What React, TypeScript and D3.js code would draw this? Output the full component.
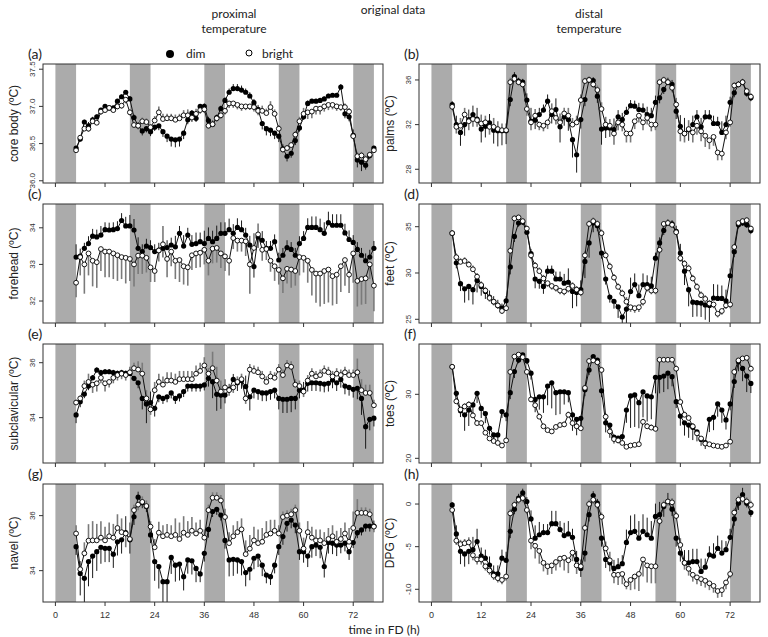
import React from 'react';
import * as d3 from 'd3';

// hourly means, 5..77 h in forced desynchrony
const hours = d3.range(5, 78);
const nightStart = [0, 18, 36, 54, 72];
const nightEnd = [5, 23, 41, 59, 77];
const xTicks = [0, 12, 24, 36, 48, 60, 72];

const coreDim = [36.44, 36.56, 36.79, 36.74, 36.82, 36.86, 36.95, 37.0, 36.98, 36.98, 37.07, 37.13, 37.19, 37.10,
  36.85, 36.74, 36.67, 36.70, 36.66, 36.72, 36.74, 36.66, 36.60, 36.56, 36.55, 36.56, 36.64, 36.82, 36.91, 36.84, 37.0, 37.0,
  36.81, 36.76, 36.85, 36.97, 37.08, 37.19, 37.24, 37.24, 37.22, 37.19, 37.14, 37.05, 36.96, 36.77, 36.70, 36.68, 36.64, 36.60,
  36.43, 36.33, 36.37, 36.54, 36.71, 36.86, 37.04, 37.07, 37.07, 37.08, 37.10, 37.14, 37.15, 37.15, 37.26, 36.90, 36.86, 36.61, 36.28, 36.25, 36.21, 36.34, 36.44];
const coreBright = [36.41, 36.58, 36.70, 36.70, 36.80, 36.78, 36.93, 36.95, 36.98, 36.95, 37.00, 37.01, 37.09, 36.92,
  36.75, 36.74, 36.80, 36.79, 36.72, 36.81, 36.92, 36.83, 36.84, 36.84, 36.82, 36.84, 36.88, 36.88, 36.85, 36.90, 36.95, 36.96,
  36.74, 36.76, 36.84, 36.88, 36.94, 37.04, 37.04, 37.02, 37.0, 37.0, 37.0, 36.99, 36.94, 36.94, 36.91, 36.99, 36.90, 36.70,
  36.42, 36.44, 36.48, 36.62, 36.80, 36.90, 36.92, 36.93, 36.97, 36.97, 37.0, 37.02, 37.02, 37.0, 36.99, 36.99, 36.93, 36.60, 36.33, 36.34, 36.29, 36.35, 36.41];
const coreDimSe = [0.02, 0.03, 0.03, 0.05, 0.04, 0.03, 0.03, 0.02, 0.02, 0.02, 0.03, 0.03, 0.03, 0.04,
  0.04, 0.05, 0.06, 0.05, 0.06, 0.05, 0.06, 0.07, 0.08, 0.1, 0.1, 0.1, 0.08, 0.06, 0.04, 0.05, 0.03, 0.04,
  0.05, 0.05, 0.04, 0.04, 0.04, 0.05, 0.06, 0.06, 0.06, 0.05, 0.05, 0.05, 0.06, 0.08, 0.09, 0.08, 0.08, 0.08,
  0.06, 0.07, 0.06, 0.06, 0.05, 0.04, 0.04, 0.03, 0.03, 0.03, 0.03, 0.03, 0.03, 0.03, 0.04, 0.06, 0.06, 0.08, 0.1, 0.12, 0.06, 0.05, 0.03];
const coreBrightSe = [0.02, 0.03, 0.03, 0.04, 0.03, 0.03, 0.04, 0.03, 0.03, 0.03, 0.04, 0.04, 0.05, 0.04,
  0.04, 0.05, 0.05, 0.05, 0.04, 0.06, 0.08, 0.07, 0.06, 0.06, 0.07, 0.06, 0.07, 0.08, 0.06, 0.07, 0.05, 0.05,
  0.04, 0.04, 0.05, 0.05, 0.05, 0.06, 0.06, 0.06, 0.06, 0.05, 0.05, 0.06, 0.06, 0.07, 0.06, 0.08, 0.06, 0.05,
  0.04, 0.04, 0.04, 0.05, 0.06, 0.08, 0.09, 0.09, 0.08, 0.08, 0.07, 0.07, 0.06, 0.06, 0.05, 0.05, 0.05, 0.04, 0.06, 0.05, 0.05, 0.04, 0.03];

const palmsDim = [33.8, 32.0, 31.3, 32.0, 32.45, 32.9, 32.5, 31.6, 31.85, 32.15, 31.5, 31.45, 31.45, 31.45,
  34.25, 36.3, 35.9, 35.8, 34.2, 32.3, 32.4, 32.9, 33.3, 34.1, 32.9, 33.35, 31.8, 32.7, 32.45, 30.65, 29.3, 32.45,
  34.25, 36.0, 35.95, 34.55, 31.6, 31.7, 31.7, 31.55, 32.7, 32.45, 33.1, 33.7, 33.65, 33.35, 33.3, 32.9, 32.8, 34.0,
  34.4, 35.15, 35.8, 35.6, 33.2, 31.85, 31.2, 31.55, 32.0, 32.7, 31.8, 32.7, 32.7, 32.1, 32.1, 31.3, 32.0, 34.0, 34.85, 35.6, 35.8, 34.8, 34.4];
const palmsBright = [33.6, 31.8, 31.9, 32.9, 32.3, 32.5, 32.4, 32.1, 32.2, 31.8, 31.8, 31.6, 31.5, 31.5,
  35.8, 36.1, 35.8, 35.6, 33.4, 32.2, 32.8, 32.0, 31.9, 32.2, 33.2, 32.6, 32.2, 33.0, 32.8, 32.0, 32.2, 34.2,
  35.9, 36.0, 35.6, 35.1, 33.4, 32.0, 31.9, 31.2, 32.2, 32.0, 31.2, 31.2, 32.3, 32.8, 32.2, 32.6, 32.0, 32.0,
  35.8, 36.0, 35.8, 35.3, 33.8, 31.4, 31.2, 31.6, 31.3, 31.9, 31.4, 31.0, 30.6, 30.9, 29.5, 29.4, 31.3, 32.2, 35.5, 35.6, 35.8, 35.0, 34.5];
const palmsDimSe = [0.3, 0.8, 1.2, 1.0, 0.9, 0.8, 1.0, 1.2, 1.0, 0.8, 1.2, 1.4, 1.3, 1.2,
  0.6, 0.4, 0.3, 0.3, 0.6, 1.2, 0.8, 0.6, 0.5, 0.6, 0.8, 1.0, 1.4, 0.8, 1.0, 1.6, 1.6, 0.8,
  0.6, 0.3, 0.3, 0.6, 1.4, 0.9, 0.8, 1.0, 0.6, 0.6, 0.5, 0.5, 0.5, 0.6, 0.6, 0.7, 0.7, 0.6,
  0.5, 0.4, 0.4, 0.4, 0.7, 1.0, 1.4, 1.0, 0.8, 0.6, 0.8, 0.6, 0.6, 0.7, 0.6, 1.0, 0.8, 0.5, 0.4, 0.3, 0.3, 0.3, 0.3];
const palmsBrightSe = [0.3, 0.6, 0.7, 0.6, 0.8, 0.7, 0.6, 0.8, 0.6, 0.7, 0.8, 0.7, 0.6, 0.6,
  0.4, 0.3, 0.3, 0.3, 0.6, 0.7, 0.6, 0.5, 0.5, 0.6, 0.7, 0.6, 0.8, 0.5, 0.7, 0.6, 0.6, 0.5,
  0.3, 0.2, 0.3, 0.4, 0.6, 0.7, 0.6, 1.0, 0.7, 0.6, 0.8, 0.8, 0.7, 0.6, 0.7, 0.6, 0.6, 0.5,
  0.3, 0.3, 0.3, 0.4, 0.6, 0.9, 0.8, 0.8, 0.9, 0.8, 0.9, 1.0, 0.8, 0.8, 0.7, 0.6, 0.6, 0.4, 0.3, 0.3, 0.3, 0.3, 0.3];

const foreheadDim = [33.2, 33.23, 33.44, 33.57, 33.77, 33.75, 33.8, 33.95, 33.94, 33.95, 33.98, 34.2, 34.05, 34.05,
  33.94, 33.44, 33.35, 33.5, 33.46, 33.35, 33.39, 33.44, 33.46, 33.53, 33.48, 33.85, 33.5, 33.8, 33.55, 33.57, 33.62, 33.57,
  33.71, 33.62, 33.71, 33.85, 33.85, 33.95, 33.85, 34.01, 33.95, 33.8, 33.53, 32.94, 33.75, 33.66, 33.44, 33.44, 33.62, 33.12,
  33.25, 33.46, 33.41, 33.25, 33.57, 33.71, 34.01, 34.01, 34.01, 33.95, 33.85, 34.14, 34.07, 34.07, 34.07, 33.86, 33.68, 33.6, 33.41, 33.25, 33.1, 33.2, 33.44];
const foreheadBright = [32.5, 33.2, 33.0, 33.3, 33.1, 33.06, 33.42, 33.35, 33.35, 33.3, 33.25, 33.2, 33.18, 33.15,
  33.0, 33.24, 33.24, 33.18, 32.92, 32.82, 33.38, 33.55, 33.15, 33.35, 33.1, 33.12, 32.95, 32.92, 33.25, 33.3, 33.32, 33.4,
  33.1, 33.43, 33.45, 33.3, 33.22, 33.1, 33.72, 33.65, 33.65, 33.63, 33.0, 33.45, 33.82, 33.4, 33.42, 33.1, 32.95, 32.85,
  32.62, 32.88, 32.86, 32.82, 33.2, 33.18, 33.1, 32.85, 32.75, 32.75, 32.82, 32.86, 32.68, 32.72, 32.95, 33.12, 32.72, 33.3, 32.55, 32.6, 32.62, 33.0, 32.42];
const foreheadDimSe = [0.35, 0.2, 0.15, 0.2, 0.2, 0.2, 0.25, 0.2, 0.2, 0.2, 0.2, 0.2, 0.25, 0.3,
  0.3, 0.3, 0.2, 0.2, 0.2, 0.2, 0.2, 0.25, 0.2, 0.2, 0.3, 0.2, 0.3, 0.2, 0.25, 0.3, 0.25, 0.35,
  0.3, 0.3, 0.35, 0.3, 0.3, 0.3, 0.25, 0.25, 0.25, 0.2, 0.25, 0.3, 0.3, 0.25, 0.2, 0.2, 0.2, 0.2,
  0.2, 0.2, 0.2, 0.2, 0.2, 0.2, 0.25, 0.3, 0.3, 0.3, 0.3, 0.3, 0.3, 0.3, 0.3, 0.25, 0.25, 0.2, 0.2, 0.2, 0.2, 0.2, 0.2];
const foreheadBrightSe = [0.4, 0.5, 0.8, 0.6, 0.7, 0.7, 0.6, 0.7, 0.7, 0.7, 0.7, 0.6, 0.7, 0.6,
  0.6, 0.5, 0.5, 0.4, 0.4, 0.3, 0.3, 0.5, 0.5, 0.4, 0.5, 0.6, 0.5, 0.5, 0.4, 0.4, 0.4, 0.4,
  0.4, 0.4, 0.4, 0.4, 0.4, 0.4, 0.3, 0.3, 0.3, 0.4, 0.8, 0.4, 0.3, 0.3, 0.3, 0.3, 0.4, 0.4,
  0.4, 0.4, 0.5, 0.4, 0.5, 0.4, 0.6, 0.7, 0.8, 0.9, 0.9, 0.9, 0.8, 0.8, 0.7, 0.7, 0.5, 0.8, 0.7, 0.7, 0.7, 0.4, 0.7];

const feetDim = [34.3, 31.1, 28.85, 28.3, 28.55, 28.2, 29.2, 28.55, 28.0, 27.4, 26.9, 26.5, 26.2, 27.0,
  30.65, 33.95, 35.4, 35.5, 34.4, 32.1, 29.35, 29.1, 28.55, 30.2, 30.2, 29.35, 29.35, 28.9, 29.0, 28.0, 27.9, 28.2,
  31.25, 33.25, 35.4, 35.1, 32.15, 29.35, 27.4, 26.95, 26.35, 25.25, 26.1, 28.0, 28.75, 27.55, 28.75, 28.75, 28.6, 31.6,
  33.25, 34.6, 35.4, 35.3, 34.5, 32.15, 30.2, 28.2, 26.85, 26.8, 26.75, 26.55, 26.5, 27.3, 27.25, 27.25, 27.0, 29.7, 32.3, 35.2, 35.4, 35.2, 34.6];
const feetBright = [34.3, 31.7, 31.2, 31.3, 30.9, 30.4, 29.6, 28.7, 28.1, 27.3, 26.9, 26.5, 25.9, 26.2,
  32.4, 35.9, 36.0, 35.6, 34.8, 31.9, 30.8, 30.2, 29.4, 28.9, 28.6, 28.4, 28.1, 28.0, 28.3, 28.6, 28.2, 27.9,
  31.9, 35.3, 35.6, 35.3, 34.3, 31.9, 30.7, 29.5, 28.5, 27.8, 26.9, 26.3, 26.2, 26.3, 26.9, 28.4, 28.1, 28.1,
  32.5, 35.3, 35.4, 35.2, 34.4, 31.6, 31.0, 30.5, 29.4, 28.5, 27.6, 27.2, 26.7, 26.6, 25.6, 25.9, 26.5, 26.6, 32.8, 35.4, 35.6, 35.7, 34.8];
const feetDimSe = [0.3, 0.6, 0.8, 1.5, 1.5, 1.6, 1.3, 1.0, 0.8, 0.7, 0.6, 0.6, 0.5, 0.5,
  0.8, 0.6, 0.4, 0.3, 0.3, 0.5, 1.0, 0.8, 0.8, 0.6, 0.6, 0.8, 0.8, 1.0, 1.5, 1.8, 1.5, 1.0,
  1.8, 1.6, 1.0, 0.6, 0.6, 0.6, 0.6, 0.8, 1.2, 1.2, 1.5, 1.5, 1.2, 1.2, 1.2, 1.0, 1.0, 0.6,
  0.6, 0.5, 0.4, 0.4, 0.6, 1.0, 1.5, 1.8, 1.6, 1.5, 1.5, 1.6, 1.8, 1.5, 1.5, 1.4, 1.2, 0.8, 0.6, 0.4, 0.3, 0.3, 0.4];
const feetBrightSe = [0.3, 0.4, 0.4, 0.4, 0.4, 0.4, 0.4, 0.4, 0.4, 0.4, 0.4, 0.4, 0.3, 0.3,
  0.4, 0.3, 0.3, 0.3, 0.3, 0.4, 0.4, 0.4, 0.4, 0.4, 0.4, 0.4, 0.4, 0.4, 0.4, 0.4, 0.4, 0.4,
  0.5, 0.4, 0.4, 0.4, 0.4, 0.4, 0.4, 0.4, 0.4, 0.4, 0.5, 0.5, 0.5, 0.5, 0.4, 0.4, 0.4, 0.4,
  0.4, 0.3, 0.3, 0.3, 0.3, 0.4, 0.4, 0.4, 0.4, 0.4, 0.4, 0.4, 0.4, 0.4, 0.4, 0.4, 0.4, 0.4, 0.3, 0.3, 0.3, 0.3, 0.3];

const subDim = [34.1, 34.58, 34.86, 35.15, 35.45, 35.73, 35.64, 35.67, 35.67, 35.64, 35.61, 35.64, 35.61, 35.61,
  35.43, 35.27, 34.7, 34.5, 34.55, 34.34, 34.76, 34.7, 34.76, 34.9, 34.7, 34.79, 34.95, 35.15, 35.15, 35.15, 35.15, 35.19,
  35.43, 35.31, 34.85, 34.82, 34.82, 35.03, 35.39, 35.27, 35.35, 35.13, 34.76, 35.0, 34.95, 34.9, 34.9, 34.95, 35.0, 34.7,
  34.67, 34.67, 34.7, 34.7, 35.0, 35.0, 35.25, 35.27, 35.27, 35.25, 35.22, 35.25, 35.37, 35.27, 35.39, 35.15, 35.1, 35.03, 35.07, 34.7, 33.67, 33.94, 33.98];
const subBright = [34.55, 34.7, 35.15, 35.3, 35.2, 35.25, 35.45, 35.25, 35.3, 35.45, 35.55, 35.6, 35.55, 35.65,
  35.8, 35.75, 35.6, 34.7, 34.3, 35.0, 35.3, 35.2, 35.35, 35.35, 35.3, 35.4, 35.4, 35.4, 35.4, 35.6, 35.7, 35.9,
  35.6, 35.8, 35.35, 34.95, 35.1, 35.0, 35.1, 35.3, 35.4, 34.7, 35.75, 35.7, 35.65, 35.5, 35.3, 35.5, 35.45, 35.75,
  35.55, 35.9, 35.85, 35.2, 35.15, 34.95, 35.35, 35.6, 35.5, 35.55, 35.7, 35.65, 35.5, 35.6, 35.55, 35.65, 35.55, 35.55, 35.65, 35.0, 34.9, 34.9, 34.45];
const subDimSe = [0.3, 0.2, 0.15, 0.15, 0.1, 0.1, 0.1, 0.1, 0.1, 0.1, 0.1, 0.1, 0.1, 0.1,
  0.1, 0.2, 0.4, 0.7, 0.4, 0.3, 0.2, 0.2, 0.2, 0.2, 0.2, 0.2, 0.2, 0.2, 0.2, 0.2, 0.2, 0.2,
  0.3, 0.6, 0.6, 0.5, 0.3, 0.2, 0.2, 0.3, 0.3, 0.4, 0.5, 0.3, 0.3, 0.3, 0.3, 0.3, 0.3, 0.4,
  0.5, 0.5, 0.5, 0.4, 0.3, 0.3, 0.3, 0.3, 0.3, 0.3, 0.3, 0.3, 0.3, 0.3, 0.3, 0.3, 0.3, 0.3, 0.4, 0.6, 0.8, 0.4, 0.3];
const subBrightSe = [0.1, 0.1, 0.2, 0.3, 0.3, 0.3, 0.2, 0.3, 0.2, 0.2, 0.2, 0.2, 0.2, 0.2,
  0.2, 0.3, 0.4, 0.3, 0.2, 0.3, 0.3, 0.3, 0.3, 0.3, 0.3, 0.3, 0.3, 0.3, 0.3, 0.3, 0.3, 0.3,
  0.2, 0.6, 0.5, 0.4, 0.3, 0.2, 0.2, 0.2, 0.2, 0.2, 0.2, 0.2, 0.2, 0.2, 0.2, 0.2, 0.2, 0.2,
  0.2, 0.2, 0.2, 0.2, 0.2, 0.2, 0.2, 0.2, 0.2, 0.2, 0.2, 0.2, 0.2, 0.2, 0.2, 0.2, 0.2, 0.2, 0.5, 0.4, 0.3, 0.3, 0.2];

const toesDim = [34.3, 30.15, 27.45, 26.8, 27.55, 28.35, 30.15, 27.8, 27.0, 24.7, 23.65, 23.65, 27.3, 26.8,
  30.25, 33.55, 35.35, 36.15, 35.25, 33.3, 29.2, 29.6, 29.6, 31.3, 31.8, 30.25, 30.4, 30.4, 30.25, 26.8, 26.1, 26.25,
  30.7, 33.8, 35.9, 35.35, 30.55, 25.55, 25.2, 23.3, 23.15, 23.4, 27.55, 29.75, 29.9, 28.7, 30.4, 29.75, 29.6, 32.65,
  32.65, 32.85, 33.3, 32.75, 28.85, 26.6, 25.55, 25.2, 24.85, 24.15, 22.95, 22.45, 26.1, 26.4, 28.5, 27.55, 26.0, 28.5, 32.0, 35.1, 34.05, 32.85, 31.7];
const toesBright = [34.3, 28.9, 27.6, 28.1, 28.4, 26.7, 25.5, 25.5, 24.0, 23.1, 22.7, 22.4, 22.0, 22.8,
  33.5, 35.9, 36.2, 35.8, 33.5, 29.2, 28.3, 26.5, 25.0, 24.4, 24.2, 24.9, 25.2, 25.3, 26.8, 25.5, 25.0, 24.7,
  31.0, 35.2, 35.3, 35.0, 33.8, 26.5, 24.2, 23.0, 22.8, 22.4, 21.8, 22.0, 22.1, 22.2, 25.7, 25.0, 24.8, 24.6,
  35.4, 35.4, 35.4, 35.4, 34.0, 28.8, 26.8, 26.3, 25.0, 23.9, 23.1, 22.3, 22.2, 22.0, 21.9, 21.8, 22.0, 22.6, 33.5, 35.3, 35.6, 35.7, 34.0];
const toesDimSe = [0.3, 0.5, 1.0, 2.5, 2.5, 2.0, 1.5, 1.5, 1.5, 1.0, 1.0, 1.0, 1.0, 1.0,
  1.0, 1.0, 0.5, 0.5, 0.5, 1.0, 2.0, 2.0, 2.5, 3.0, 4.0, 3.5, 3.5, 2.0, 1.5, 2.5, 2.5, 1.5,
  1.0, 0.8, 0.5, 0.5, 1.0, 1.5, 2.0, 1.0, 0.8, 1.0, 2.0, 5.0, 5.0, 4.0, 4.0, 4.0, 3.5, 2.5,
  2.5, 2.5, 2.5, 1.5, 1.0, 1.5, 2.0, 2.0, 2.0, 1.5, 1.0, 1.0, 2.0, 2.0, 2.0, 2.0, 1.5, 1.0, 1.0, 1.5, 2.0, 2.5, 1.5];
const toesBrightSe = [0.3, 0.5, 0.5, 0.5, 0.5, 0.5, 0.5, 0.4, 0.4, 0.4, 0.4, 0.3, 0.3, 0.3,
  0.4, 0.3, 0.3, 0.3, 0.4, 0.5, 0.5, 0.5, 0.4, 0.4, 0.4, 0.4, 0.4, 0.4, 0.5, 0.5, 0.5, 0.5,
  0.5, 0.4, 0.4, 0.4, 0.5, 0.5, 0.5, 0.4, 0.4, 0.3, 0.3, 0.3, 0.3, 0.3, 0.5, 0.5, 0.5, 0.5,
  0.4, 0.4, 0.4, 0.4, 0.5, 0.5, 0.5, 0.5, 0.5, 0.4, 0.4, 0.4, 0.3, 0.3, 0.3, 0.3, 0.3, 0.4, 0.5, 0.4, 0.4, 0.4, 0.5];

const navelDim = [34.87, 33.9, 33.72, 34.33, 34.53, 34.69, 34.85, 34.81, 34.81, 34.6, 35.05, 35.12, 35.38, 35.12,
  35.96, 36.67, 36.47, 36.33, 35.3, 34.33, 34.15, 33.6, 33.6, 34.48, 34.2, 34.24, 33.78, 34.39, 34.36, 34.08, 33.88, 34.63,
  35.5, 36.15, 36.23, 36.02, 35.1, 34.39, 34.41, 34.39, 34.33, 33.93, 34.05, 34.45, 34.53, 34.2, 33.84, 33.78, 34.2, 34.87,
  35.24, 35.72, 35.84, 35.66, 34.69, 34.69, 34.53, 34.87, 34.93, 34.85, 34.15, 35.02, 35.0, 34.93, 34.93, 35.0, 34.69, 35.02, 35.38, 35.48, 35.62, 35.62, 35.62];
const navelBright = [35.35, 34.05, 34.63, 35.09, 35.1, 35.1, 35.2, 35.1, 35.25, 35.2, 35.55, 35.4, 35.35, 35.15,
  36.2, 36.4, 36.5, 36.35, 35.6, 34.85, 35.38, 35.25, 35.3, 35.25, 35.3, 35.15, 35.38, 35.3, 35.45, 35.35, 35.45, 35.2,
  36.2, 36.65, 36.65, 36.55, 35.95, 35.0, 35.25, 35.4, 35.5, 34.6, 34.8, 35.1, 35.0, 35.05, 35.3, 35.35, 35.45, 35.35,
  35.95, 36.0, 36.05, 36.2, 35.45, 34.8, 35.4, 35.2, 35.1, 35.1, 35.0, 35.15, 35.25, 35.05, 35.15, 35.35, 35.05, 35.55, 36.1, 36.1, 36.1, 36.05, 35.6];
const navelDimSe = [0.3, 0.8, 0.9, 0.9, 0.8, 0.7, 0.6, 0.5, 0.5, 0.5, 0.5, 0.5, 0.6, 0.5,
  0.3, 0.2, 0.2, 0.2, 0.3, 0.7, 0.8, 0.8, 0.9, 0.6, 0.6, 0.6, 0.5, 0.5, 0.5, 0.5, 0.3, 0.3,
  0.3, 0.2, 0.2, 0.2, 0.3, 0.6, 0.6, 0.5, 0.5, 0.5, 0.4, 0.4, 0.4, 0.4, 0.3, 0.3, 0.3, 0.3,
  0.3, 0.3, 0.3, 0.3, 0.3, 0.4, 0.4, 0.4, 0.4, 0.4, 0.4, 0.4, 0.4, 0.4, 0.3, 0.3, 0.3, 0.2, 0.2, 0.2, 0.2, 0.2, 0.2];
const navelBrightSe = [0.3, 0.3, 0.4, 0.6, 0.7, 0.6, 0.6, 0.5, 0.5, 0.5, 0.5, 0.5, 0.5, 0.6,
  0.2, 0.2, 0.2, 0.2, 0.2, 0.3, 0.4, 0.4, 0.4, 0.4, 0.6, 0.6, 0.6, 0.5, 0.5, 0.4, 0.4, 0.3,
  0.2, 0.2, 0.2, 0.2, 0.3, 0.4, 0.4, 0.4, 0.4, 0.5, 0.5, 0.5, 0.5, 0.5, 0.5, 0.5, 0.4, 0.3,
  0.2, 0.2, 0.2, 0.2, 0.3, 0.4, 0.4, 0.4, 0.4, 0.4, 0.4, 0.4, 0.4, 0.4, 0.4, 0.4, 0.5, 0.6, 0.5, 0.2, 0.2, 0.2, 0.2];

const dpgDim = [-0.1, -3.5, -5.55, -5.85, -5.55, -5.35, -4.4, -6.1, -6.35, -7.15, -8.2, -8.2, -6.35, -6.6,
  -3.2, -0.6, 0.7, 1.3, 0.3, -1.75, -4.0, -3.6, -3.35, -3.35, -2.3, -2.3, -3.0, -3.7, -3.5, -3.9, -6.5, -7.55,
  -5.75, -1.25, 1.0, 0.1, -4.0, -6.5, -6.9, -7.55, -7.35, -7.0, -4.5, -3.35, -3.2, -4.0, -3.2, -3.6, -4.0, -1.45,
  -1.25, -0.3, 0.3, -0.6, -4.0, -5.75, -6.9, -6.9, -6.75, -6.75, -7.9, -7.4, -5.95, -6.1, -5.2, -5.75, -5.35, -3.9, -1.75, 0.1, 1.1, 0.1, -1.0];
const dpgBright = [-0.7, -4.3, -4.7, -4.6, -4.5, -6.0, -6.5, -6.5, -7.3, -7.8, -8.4, -8.7, -8.9, -8.5,
  -1.1, -0.1, 0.5, 0.7, -0.7, -4.3, -4.9, -5.5, -6.9, -7.3, -7.2, -6.8, -6.4, -6.3, -6.6, -5.7, -7.2, -7.3,
  -2.8, 0.0, 0.5, -0.1, -1.5, -5.2, -6.6, -8.3, -8.3, -8.2, -9.4, -8.9, -8.5, -8.2, -6.5, -7.2, -7.3, -7.3,
  -2.0, -0.1, 0.3, 0.2, -1.4, -4.8, -6.9, -7.6, -8.3, -8.6, -8.8, -9.0, -9.3, -9.6, -10.2, -10.1, -9.2, -8.2, -1.0, 0.5, 0.6, 0.3, -0.1];
const dpgDimSe = [0.3, 1.0, 1.5, 1.5, 1.5, 1.5, 1.5, 1.0, 1.0, 1.0, 1.0, 1.0, 1.0, 1.0,
  0.8, 0.6, 0.5, 0.5, 0.5, 1.0, 1.5, 1.5, 1.0, 1.0, 1.5, 1.5, 1.0, 1.5, 1.5, 1.0, 1.0, 1.0,
  1.0, 0.8, 0.5, 0.5, 1.0, 1.0, 1.0, 1.0, 1.0, 1.0, 1.5, 2.0, 2.0, 2.0, 2.0, 2.0, 2.0, 1.5,
  1.5, 1.2, 1.0, 0.8, 1.0, 1.0, 1.5, 1.5, 1.5, 1.5, 1.5, 1.0, 1.0, 1.5, 1.5, 1.5, 1.0, 1.0, 0.8, 0.8, 0.8, 0.5, 0.5];
const dpgBrightSe = [0.3, 0.5, 0.5, 0.5, 0.6, 0.6, 0.6, 0.6, 0.5, 0.5, 0.5, 0.5, 0.5, 0.5,
  0.5, 0.5, 0.5, 0.5, 0.5, 1.0, 1.5, 1.5, 1.0, 1.0, 1.0, 1.0, 1.0, 1.5, 1.5, 1.0, 1.0, 0.8,
  0.5, 0.5, 0.5, 0.5, 0.5, 0.8, 1.0, 1.0, 1.2, 1.2, 0.6, 1.2, 1.5, 2.0, 2.0, 2.0, 2.0, 2.0,
  0.5, 0.5, 0.5, 0.5, 0.5, 0.8, 0.8, 0.8, 0.8, 0.8, 0.8, 0.8, 0.8, 0.8, 0.8, 0.8, 0.8, 0.5, 0.5, 0.5, 0.5, 0.5, 0.5];

type Panel = {
  tag: string; label: string; col: number; row: number;
  dim: number[]; bright: number[]; dimSe: number[]; brightSe: number[];
  domain: [number, number]; ticks: number[]; dec: number; dimDir?: number;
};

const panels: Panel[] = [
  { tag: '(a)', label: 'core body (ºC)', col: 0, row: 0, dim: coreDim, bright: coreBright, dimSe: coreDimSe, brightSe: coreBrightSe, domain: [35.97, 37.57], ticks: [36, 36.5, 37, 37.5], dec: 1 },
  { tag: '(b)', label: 'palms (ºC)', col: 1, row: 0, dim: palmsDim, bright: palmsBright, dimSe: palmsDimSe, brightSe: palmsBrightSe, domain: [26.77, 37.43], ticks: [28, 32, 36], dec: 0 },
  { tag: '(c)', label: 'forehead (ºC)', col: 0, row: 1, dim: foreheadDim, bright: foreheadBright, dimSe: foreheadDimSe, brightSe: foreheadBrightSe, domain: [31.4, 34.65], ticks: [32, 33, 34], dec: 0 },
  { tag: '(d)', label: 'feet (ºC)', col: 1, row: 1, dim: feetDim, bright: feetBright, dimSe: feetDimSe, brightSe: feetBrightSe, domain: [24.6, 37.45], ticks: [25, 30, 35], dec: 0 },
  { tag: '(e)', label: 'subclavicular (ºC)', col: 0, row: 2, dim: subDim, bright: subBright, dimSe: subDimSe, brightSe: subBrightSe, domain: [32.35, 36.68], ticks: [34, 36], dec: 0 },
  { tag: '(f)', label: 'toes (ºC)', col: 1, row: 2, dim: toesDim, bright: toesBright, dimSe: toesDimSe, brightSe: toesBrightSe, domain: [19.27, 37.86], ticks: [20, 30], dec: 0, dimDir: -1 },
  { tag: '(g)', label: 'navel (ºC)', col: 0, row: 3, dim: navelDim, bright: navelBright, dimSe: navelDimSe, brightSe: navelBrightSe, domain: [32.86, 37.15], ticks: [34, 36], dec: 0 },
  { tag: '(h)', label: 'DPG (ºC)', col: 1, row: 3, dim: dpgDim, bright: dpgBright, dimSe: dpgDimSe, brightSe: dpgBrightSe, domain: [-11.49, 2.35], ticks: [-10, -5, 0], dec: 0 },
];

const colX = [[43, 383], [419, 760]];
const rowY = [[64, 183], [204, 323], [344, 463], [484, 602]];
const txt = 'Lato, "Liberation Sans", sans-serif';
const axisFont = '"Liberation Sans", Arial, sans-serif';

function PanelView({ p }: { p: Panel }) {
  const [x0, x1] = colX[p.col];
  const [y0, y1] = rowY[p.row];
  const x = d3.scaleLinear().domain([-3, 79.2]).range([x0, x1]);
  const y = d3.scaleLinear().domain(p.domain).range([y1, y0]);
  const line = d3.line<number>().x((_, i) => x(hours[i])).y((v) => y(v));
  const clipId = 'clip-' + p.tag.replace(/\W/g, '');
  const dirDim = (i: number) => p.dimDir ?? (p.dim[i] >= p.bright[i] ? 1 : -1);
  const dirBright = (i: number) => (p.dimDir !== undefined ? -p.dimDir : -dirDim(i));

  return (
    <g>
      <defs>
        <clipPath id={clipId}>
          <rect x={x0} y={y0} width={x1 - x0} height={y1 - y0} />
        </clipPath>
      </defs>
      <g clipPath={`url(#${clipId})`}>
        {nightStart.map((s, i) => (
          <rect key={i} x={x(s)} y={y0} width={x(nightEnd[i]) - x(s)} height={y1 - y0} fill="#ababab" />
        ))}
        {p.bright.map((v, i) => (
          <line key={'be' + i} x1={x(hours[i])} x2={x(hours[i])} y1={y(v)} y2={y(v + dirBright(i) * p.brightSe[i])} stroke="#7a7a7a" strokeWidth={1.6} />
        ))}
        {p.dim.map((v, i) => (
          <line key={'de' + i} x1={x(hours[i])} x2={x(hours[i])} y1={y(v)} y2={y(v + dirDim(i) * p.dimSe[i])} stroke="#1a1a1a" strokeWidth={1} />
        ))}
        <path d={line(p.dim) ?? ''} fill="none" stroke="#111" strokeWidth={1} />
        <path d={line(p.bright) ?? ''} fill="none" stroke="#111" strokeWidth={1} />
        {p.dim.map((v, i) => (
          <circle key={'dp' + i} cx={x(hours[i])} cy={y(v)} r={2.6} fill="#000" />
        ))}
        {p.bright.map((v, i) => (
          <circle key={'bp' + i} cx={x(hours[i])} cy={y(v)} r={2.4} fill="#fff" stroke="#000" strokeWidth={0.9} />
        ))}
      </g>
      <rect x={x0} y={y0} width={x1 - x0} height={y1 - y0} fill="none" stroke="#333" strokeWidth={1} />
      {p.ticks.map((t) => (
        <g key={'yt' + t}>
          <line x1={x0 - 4} x2={x0} y1={y(t)} y2={y(t)} stroke="#333" />
          <text transform={`translate(${x0 - 8},${y(t)}) rotate(-90)`} textAnchor="middle" fontSize={8} fontFamily={axisFont} fill="#333">
            {t.toFixed(p.dec)}
          </text>
        </g>
      ))}
      {xTicks.map((t) => (
        <g key={'xt' + t}>
          <line x1={x(t)} x2={x(t)} y1={y1} y2={y1 + 4} stroke="#333" />
          {p.row === 3 && (
            <text x={x(t)} y={y1 + 16} textAnchor="middle" fontSize={9} fontFamily={axisFont} fill="#333">{t}</text>
          )}
        </g>
      ))}
      <text transform={`translate(${x0 - 25},${(y0 + y1) / 2}) rotate(-90)`} textAnchor="middle" fontSize={12} fontFamily={axisFont} fill="#222">
        {p.label}
      </text>
      <text x={x0 - 15} y={y0 - 5} fontSize={14} fontFamily={txt} fill="#222">{p.tag}</text>
    </g>
  );
}

export default function App() {
  return (
    <svg width={768} height={637} style={{ position: 'absolute', left: 0, top: 0, background: '#fff' }}>
      <rect width={768} height={637} fill="#fff" />
      <g fontFamily={txt} fontSize={12} fill="#222" textAnchor="middle">
        <text x={234} y={18}>proximal</text>
        <text x={234} y={33}>temperature</text>
        <text x={393} y={14}>original data</text>
        <text x={589} y={18}>distal</text>
        <text x={589} y={33}>temperature</text>
      </g>
      <circle cx={170} cy={54} r={4} fill="#000" />
      <text x={186} y={58} fontFamily={txt} fontSize={12} fill="#222">dim</text>
      <circle cx={249} cy={53} r={3} fill="#fff" stroke="#000" strokeWidth={1} />
      <text x={262} y={58} fontFamily={txt} fontSize={12} fill="#222">bright</text>
      {panels.map((p) => (
        <PanelView key={p.tag} p={p} />
      ))}
      <text x={384} y={634} textAnchor="middle" fontFamily={txt} fontSize={12} fill="#222">time in FD (h)</text>
    </svg>
  );
}
